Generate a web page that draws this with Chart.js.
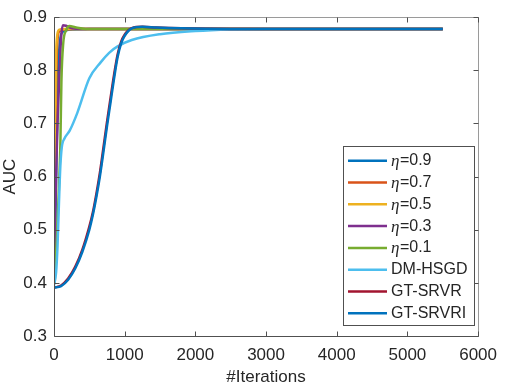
<!DOCTYPE html>
<html><head><meta charset="utf-8">
<script src="https://cdn.jsdelivr.net/npm/chart.js@4/dist/chart.umd.min.js"></script>
<style>html,body{margin:0;padding:0;background:#fff}#wrap{width:506px;height:388px}</style>
</head><body><div id="wrap"><canvas id="c" width="506" height="388"></canvas></div>
<script>
// ---- data ----
const seriesLabels = ['η=0.9','η=0.7','η=0.5','η=0.3','η=0.1','DM-HSGD','GT-SRVR','GT-SRVRI'];
const seriesColors = ['#0072BD','#D95319','#EDB120','#7E2F8E','#77AC30','#4DBEEE','#A2142F','#0072BD'];
const xTicks = [0,1000,2000,3000,4000,5000,6000];
const yTicks = [0.3,0.4,0.5,0.6,0.7,0.8,0.9];

const eta09X = [0,10,30,60,90,120,160,300,500,5500];
const eta09Y = [0.40,0.45,0.60,0.80,0.86,0.872,0.875,0.877,0.878,0.878];
const eta07X = [0,15,35,55,80,150,300,5500];
const eta07Y = [0.40,0.60,0.80,0.865,0.874,0.877,0.878,0.878];
const eta05X = [0,10,25,45,70,150,5500];
const eta05Y = [0.40,0.60,0.80,0.865,0.876,0.878,0.878];
const eta03X = [0,20,45,80,100,125,170,250,400,5500];
const eta03Y = [0.40,0.55,0.68,0.80,0.86,0.885,0.884,0.879,0.878,0.878];
const eta01X = [0,40,70,90,105,130,170,220,300,450,5500];
const eta01Y = [0.40,0.48,0.58,0.66,0.78,0.85,0.875,0.8835,0.881,0.878,0.878];
const dmX = [0,30,50,70,90,110,150,220,330,500,660,780,900,1100,1500,2000,2500,3000,5500];
const dmY = [0.395,0.42,0.47,0.55,0.62,0.655,0.672,0.686,0.72,0.785,0.815,0.833,0.845,0.857,0.868,0.874,0.877,0.878,0.878];
const srvrX = [0,100,200,300,400,500,550,600,650,700,750,800,850,900,950,1000,1050,1100,1250,1450,1800,2500,5500];
const srvrY = [0.391,0.395,0.408,0.43,0.462,0.506,0.533,0.568,0.608,0.655,0.703,0.748,0.792,0.83,0.854,0.867,0.875,0.8795,0.882,0.8805,0.879,0.878,0.878];
const srvriX = [0,100,200,300,400,500,550,600,650,700,750,800,850,900,950,1000,1050,1100,1250,1450,1800,2500,5500];
const srvriY = [0.391,0.394,0.406,0.427,0.458,0.50,0.528,0.562,0.601,0.647,0.695,0.74,0.785,0.825,0.851,0.865,0.874,0.879,0.882,0.8805,0.879,0.878,0.878];

const allX = [eta09X,eta07X,eta05X,eta03X,eta01X,dmX,srvrX,srvriX];
const allY = [eta09Y,eta07Y,eta05Y,eta03Y,eta01Y,dmY,srvrY,srvriY];

const datasets = seriesLabels.map((lab,i)=>({
  label: lab,
  data: allX[i].map((x,j)=>({x:x,y:allY[i][j]})),
  borderColor: seriesColors[i],
  backgroundColor: seriesColors[i],
  borderWidth: 2.5,
  pointRadius: 0,
  fill: false,
  cubicInterpolationMode: 'monotone',
  order: seriesLabels.length - 1 - i
}));

const AX = '#262626';
const FONT = '"Liberation Sans", Arial, sans-serif';

const boxPlugin = {
  id: 'boxPlugin',
  afterDatasetsDraw(chart){
    const ctx = chart.ctx, a = chart.chartArea;
    const xs = chart.scales.x, ys = chart.scales.y;
    ctx.save();
    ctx.lineWidth = 1;
    const L=Math.round(a.left)+0.5, R=Math.round(a.right)+0.5, T=Math.round(a.top)+0.5, B=Math.round(a.bottom)+0.5;
    ctx.strokeStyle = '#9a9a9a';
    ctx.beginPath();
    ctx.moveTo(L,T); ctx.lineTo(R,T); ctx.lineTo(R,B);
    ctx.stroke();
    ctx.strokeStyle = '#505050';
    ctx.beginPath();
    ctx.moveTo(L,T); ctx.lineTo(L,B); ctx.lineTo(R,B);
    ctx.stroke();
    const tl = 5;
    ctx.strokeStyle = '#505050';
    ctx.beginPath();
    xTicks.forEach(v=>{
      const px = Math.round(xs.getPixelForValue(v))+0.5;
      ctx.moveTo(px,B); ctx.lineTo(px,B-tl);
      ctx.moveTo(px,T); ctx.lineTo(px,T+tl);
    });
    yTicks.forEach(v=>{
      const py = Math.round(ys.getPixelForValue(v))+0.5;
      ctx.moveTo(L,py); ctx.lineTo(L+tl,py);
      ctx.moveTo(R,py); ctx.lineTo(R-tl,py);
    });
    ctx.stroke();

    // legend
    const lx=343.5, ly=146.5, lw=131, lh=179;
    ctx.fillStyle='#fff';
    ctx.fillRect(lx,ly,lw,lh);
    ctx.strokeStyle='#505050';
    ctx.lineWidth = 1;
    ctx.strokeRect(lx,ly,lw,lh);
    ctx.textBaseline='middle';
    chart.data.datasets.forEach((ds,i)=>{
      const y = 160.7 + i*21.8;
      ctx.strokeStyle = ds.borderColor;
      ctx.lineWidth = 2.5;
      ctx.beginPath(); ctx.moveTo(348,y); ctx.lineTo(387,y); ctx.stroke();
      ctx.fillStyle = AX;
      let tx = 391;
      let txt = ds.label;
      if (txt.startsWith('η')) {
        ctx.font = 'italic 17px "Liberation Serif", "DejaVu Serif", serif';
        ctx.fillText('η', tx, y+1);
        tx += ctx.measureText('η').width + 0.5;
        txt = txt.slice(1);
      }
      ctx.font = '16px ' + FONT;
      ctx.fillText(txt, tx, y);
    });
    ctx.restore();
  }
};

new Chart(document.getElementById('c'), {
  type: 'line',
  data: { datasets },
  plugins: [boxPlugin],
  options: {
    responsive: false,
    animation: false,
    layout: { padding: { top: 6, right: 21, left: 0, bottom: 0 } },
    plugins: { legend: { display: false }, tooltip: { enabled: false } },
    scales: {
      x: {
        type: 'linear', min: 0, max: 6000,
        afterBuildTicks(s){ s.ticks = xTicks.map(v=>({value:v})); },
        afterFit(s){ s.height = 52; },
        grid: { display: false, drawTicks: false },
        border: { display: false },
        ticks: { color: AX, font: { family: FONT, size: 17 }, padding: 9, maxRotation: 0, autoSkip: false,
                 callback: v => String(v) },
        title: { display: true, text: '#Iterations', color: AX, font: { family: FONT, size: 17 }, padding: { top: 0, bottom: 0 } }
      },
      y: {
        type: 'linear', min: 0.3, max: 0.9,
        afterBuildTicks(s){ s.ticks = yTicks.map(v=>({value:v})); },
        afterFit(s){ s.width = 54; },
        grid: { display: false, drawTicks: false },
        border: { display: false },
        ticks: { color: AX, font: { family: FONT, size: 17 }, padding: 7, autoSkip: false,
                 callback: v => Number(v).toFixed(1) },
        title: { display: true, text: 'AUC', color: AX, font: { family: FONT, size: 17 }, padding: { top: 0, bottom: 0 } }
      }
    }
  }
});
</script>
</body></html>
